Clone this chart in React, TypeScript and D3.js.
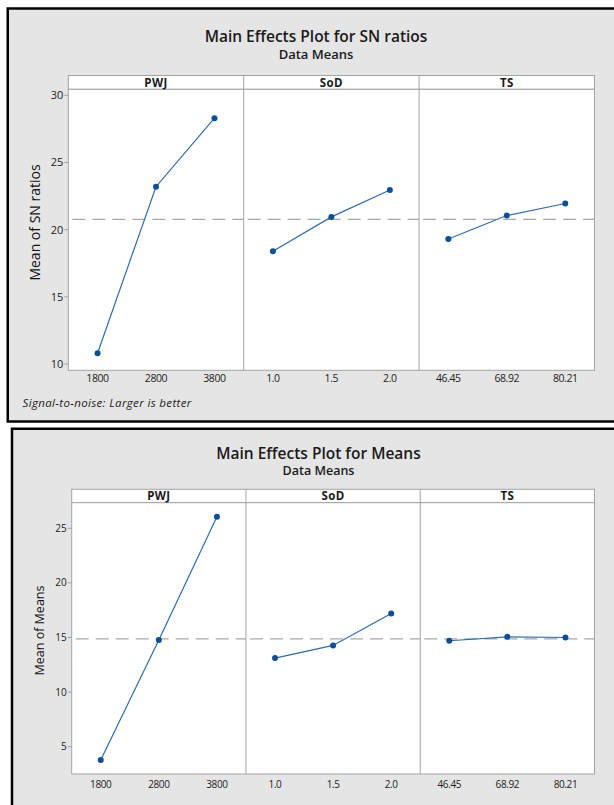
import React from "react";
import * as d3 from "d3";

// Factors and their levels
const factors = ["PWJ", "SoD", "TS"];
const pwjLevels = ["1800", "2800", "3800"];
const sodLevels = ["1.0", "1.5", "2.0"];
const tsLevels = ["46.45", "68.92", "80.21"];

// Mean of SN ratios per level
const snPWJ = [10.8, 23.2, 28.3];
const snSoD = [18.4, 20.95, 22.95];
const snTS = [19.3, 21.05, 21.95];
const snTicks = [10, 15, 20, 25, 30];

// Mean of means per level
const meanPWJ = [3.78, 14.76, 26.06];
const meanSoD = [13.11, 14.27, 17.2];
const meanTS = [14.7, 15.06, 15.0];
const meanTicks = [5, 10, 15, 20, 25];

const levels = [pwjLevels, sodLevels, tsLevels];

const FONT = "'Open Sans', 'Noto Sans', sans-serif";
const LINE_BLUE = "#2c6db8";
const DOT_BLUE = "#0b4f9c";
const GRID = "#a3a3a3";

type PlotProps = {
  title: string;
  titleX: number;
  titleY: number;
  subDy: number;
  subSize: number;
  yLabel: string;
  yLabelX: number;
  yLabelY: number;
  yLabelSize: number;
  values: number[][];
  ticks: number[];
  domain: [number, number];
  left: number;
  right: number;
  headerTop: number;
  headerBottom: number;
  bottom: number;
  tickSize: number;
  xLabelY: number;
  xLabelSize: number;
};

function EffectsPlot(p: PlotProps) {
  const panelW = (p.right - p.left) / factors.length;
  const y = d3.scaleLinear().domain(p.domain).range([p.bottom, p.headerBottom]);
  const grand = d3.mean(p.values[0]) as number;
  const line = d3.line<number>();

  return (
    <g>
      <text x={p.titleX} y={p.titleY} textAnchor="middle" fontFamily={FONT} fill="#1a1a1a" fontWeight={600}>
        <tspan fontSize={15.5}>{p.title}</tspan>
        <tspan x={p.titleX} dy={p.subDy} fontSize={p.subSize}>
          Data Means
        </tspan>
      </text>

      {/* header strip and plot area */}
      <rect x={p.left} y={p.headerTop} width={p.right - p.left} height={p.headerBottom - p.headerTop} fill="#fff" stroke={GRID} />
      <rect x={p.left} y={p.headerBottom} width={p.right - p.left} height={p.bottom - p.headerBottom} fill="#fff" stroke={GRID} />

      {/* y axis ticks */}
      {p.ticks.map((t) => (
        <g key={t}>
          <line x1={p.left - 4} x2={p.left} y1={y(t)} y2={y(t)} stroke={GRID} />
          <text x={p.left - 5} y={y(t)} dy="0.35em" textAnchor="end" fontFamily={FONT} fontSize={p.tickSize} fill="#222">
            {t}
          </text>
        </g>
      ))}
      <text
        transform={`translate(${p.yLabelX},${p.yLabelY}) rotate(-90)`}
        textAnchor="middle"
        dy="0.35em"
        fontFamily={FONT}
        fontSize={p.yLabelSize}
        fontWeight={500}
        fill="#111"
      >
        {p.yLabel}
      </text>

      {factors.map((f, i) => {
        const x0 = p.left + i * panelW;
        const x = d3.scalePoint<string>().domain(levels[i]).range([x0, x0 + panelW]).padding(0.5);
        const pts: [number, number][] = levels[i].map((lv, j) => [x(lv) as number, y(p.values[i][j])]);
        return (
          <g key={f}>
            {i > 0 && <line x1={x0} x2={x0} y1={p.headerTop} y2={p.bottom} stroke={GRID} />}
            <text x={x0 + panelW / 2} y={(p.headerTop + p.headerBottom) / 2} dy="0.36em" textAnchor="middle" fontFamily={FONT} fontSize={11.5} fontWeight={700} letterSpacing={0.4} fill="#1a1a1a">
              {f}
            </text>
            <line x1={x0} x2={x0 + panelW} y1={y(grand)} y2={y(grand)} stroke="#a8a8a8" strokeWidth={1.2} strokeDasharray="13,7" strokeDashoffset={-4} />
            <path d={line(pts) as string} fill="none" stroke={LINE_BLUE} strokeWidth={1.2} />
            {pts.map(([px, py], j) => (
              <circle key={j} cx={px} cy={py} r={3} fill={DOT_BLUE} />
            ))}
            {levels[i].map((lv) => (
              <text key={lv} x={x(lv)} y={p.xLabelY} textAnchor="middle" fontFamily={FONT} fontSize={p.xLabelSize} letterSpacing={-0.4} fill="#222">
                {lv}
              </text>
            ))}
          </g>
        );
      })}
    </g>
  );
}

export default function App() {
  return (
    <svg width={614} height={805} style={{ position: "absolute", left: 0, top: 0, background: "#fff" }}>
      {/* SN ratio frame */}
      <rect x={7.75} y={8.5} width={660} height={413} fill="#e5e5e5" stroke="#000" strokeWidth={2.5} />
      <EffectsPlot
        title="Main Effects Plot for SN ratios"
        titleX={316}
        titleY={41.7}
        subDy={17.3}
        subSize={13}
        yLabel="Mean of SN ratios"
        yLabelX={35.5}
        yLabelY={222.5}
        yLabelSize={14}
        values={[snPWJ, snSoD, snTS]}
        ticks={snTicks}
        domain={[9.53, 30.45]}
        left={68.3}
        right={594.5}
        headerTop={75.5}
        headerBottom={89.3}
        bottom={370.3}
        tickSize={11}
        xLabelY={382}
        xLabelSize={10.5}
      />
      <text x={22.5} y={407} fontFamily={FONT} fontStyle="italic" fontSize={11.5} letterSpacing={0.35} fill="#222">
        Signal-to-noise: Larger is better
      </text>

      {/* Means frame */}
      <rect x={12} y={428.75} width={660} height={420} fill="#e5e5e5" stroke="#000" strokeWidth={2.5} />
      <EffectsPlot
        title="Main Effects Plot for Means"
        titleX={318.5}
        titleY={458.5}
        subDy={16.8}
        subSize={12.5}
        yLabel="Mean of Means"
        yLabelX={39.7}
        yLabelY={630.5}
        yLabelSize={12.5}
        values={[meanPWJ, meanSoD, meanTS]}
        ticks={meanTicks}
        domain={[2.5, 27.34]}
        left={71.7}
        right={594.5}
        headerTop={489.3}
        headerBottom={502.7}
        bottom={774}
        tickSize={10}
        xLabelY={788}
        xLabelSize={10}
      />
    </svg>
  );
}
